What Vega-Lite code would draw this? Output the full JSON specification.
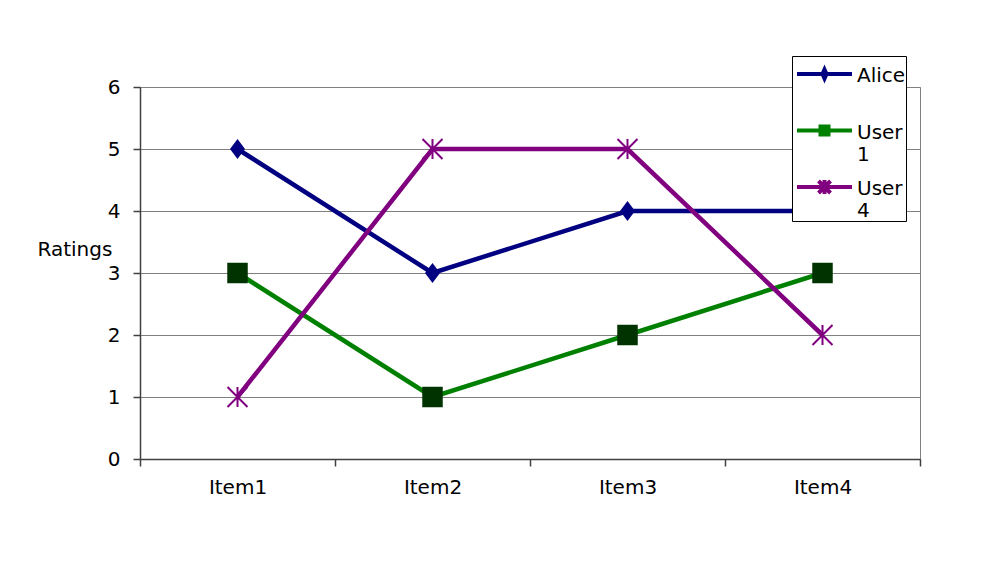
{
  "$schema": "https://vega.github.io/schema/vega-lite/v6.json",
  "autosize": {"type": "none"},
  "padding": {"left": 140, "top": 87, "right": 87, "bottom": 102},
  "width": 780,
  "height": 372,
  "background": "white",
  "config": {
    "font": "DejaVu Sans",
    "view": {"stroke": "#808080", "strokeWidth": 1},
    "axis": {"labelFontSize": 20, "labelColor": "black", "titleFontSize": 20, "titleFontWeight": "normal", "titleColor": "black", "domainColor": "#404040", "tickColor": "#404040", "domainWidth": 1.5, "tickWidth": 1.5},
    "legend": {"orient": "none", "legendX": 652, "legendY": -31, "title": null, "strokeColor": "black", "fillColor": "white", "padding": 0, "symbolSize": 4, "symbolStrokeWidth": 4, "symbolOpacity": 1, "labelFontSize": 20, "labelColor": "black", "labelOffset": 45, "labelBaseline": "top", "rowPadding": 4.5}
  },
  "data": {
    "values": [
      {"item": "Item1", "series": "Alice", "rating": 5},
      {"item": "Item2", "series": "Alice", "rating": 3},
      {"item": "Item3", "series": "Alice", "rating": 4},
      {"item": "Item4", "series": "Alice", "rating": 4},
      {"item": "Item1", "series": "User 1", "rating": 3},
      {"item": "Item2", "series": "User 1", "rating": 1},
      {"item": "Item3", "series": "User 1", "rating": 2},
      {"item": "Item4", "series": "User 1", "rating": 3},
      {"item": "Item1", "series": "User 4", "rating": 1},
      {"item": "Item2", "series": "User 4", "rating": 5},
      {"item": "Item3", "series": "User 4", "rating": 5},
      {"item": "Item4", "series": "User 4", "rating": 2}
    ]
  },
  "encoding": {
    "x": {
      "field": "item", "type": "nominal",
      "scale": {"type": "band", "paddingInner": 0, "paddingOuter": 0},
      "axis": {"title": null, "labelAngle": 0, "tickBand": "extent", "tickSize": 7, "labelPadding": 11, "grid": false}
    },
    "y": {
      "field": "rating", "type": "quantitative",
      "scale": {"domain": [0, 6], "nice": false},
      "axis": {"title": "Ratings", "values": [0, 1, 2, 3, 4, 5, 6], "grid": true, "gridColor": "#808080", "gridWidth": 1, "tickSize": 7, "labelPadding": 13, "titleAngle": 0, "titleAlign": "left", "titleBaseline": "middle", "titleX": -103, "titleY": 162}
    }
  },
  "layer": [
    {
      "mark": {"type": "line", "strokeWidth": 4.5},
      "encoding": {
        "stroke": {"field": "series", "type": "nominal", "scale": {"domain": ["Alice", "User 1", "User 4"], "range": ["#000080", "#008000", "#800080"]}, "legend": {"labelExpr": "datum.label == 'Alice' ? ['Alice\u00a0', ''] : split(datum.label, ' ')"}}
      }
    },
    {
      "transform": [{"filter": "datum.series == 'Alice'"}],
      "mark": {"type": "point", "shape": "M0,-1L0.75,0L0,1L-0.75,0Z", "filled": true, "color": "#000080", "size": 400, "opacity": 1}
    },
    {
      "transform": [{"filter": "datum.series == 'User 1'"}],
      "mark": {"type": "point", "shape": "square", "filled": true, "color": "#003300", "size": 420, "opacity": 1}
    },
    {
      "transform": [{"filter": "datum.series == 'User 4'"}],
      "mark": {"type": "point", "shape": "M-1,-1L1,1M-1,1L1,-1M0,-1L0,1", "filled": false, "color": "#800080", "strokeWidth": 2, "size": 400, "opacity": 1}
    },
    {
      "mark": {"type": "point", "filled": true, "opacity": 0, "strokeWidth": 4},
      "encoding": {
        "fill": {"field": "series", "type": "nominal", "scale": {"domain": ["Alice", "User 1", "User 4"], "range": ["#000080", "#003300", "#800080"]}, "legend": {"labelExpr": "datum.label == 'Alice' ? ['Alice\u00a0', ''] : split(datum.label, ' ')"}},
        "stroke": {"field": "series", "type": "nominal", "scale": {"domain": ["Alice", "User 1", "User 4"], "range": ["#000080", "#008000", "#800080"]}, "legend": {"labelExpr": "datum.label == 'Alice' ? ['Alice\u00a0', ''] : split(datum.label, ' ')"}},
        "shape": {"field": "series", "type": "nominal", "scale": {"domain": ["Alice", "User 1", "User 4"], "range": [
          "M-5,8L50,8M22.5,3.5L24.5,8L22.5,12.5L20.5,8Z",
          "M-5,8L50,8M18.5,4L26.5,4L26.5,12L18.5,12Z",
          "M-5,8L50,8M16.5,2L28.5,14M16.5,14L28.5,2M22.5,1L22.5,15"]}, "legend": {"labelExpr": "datum.label == 'Alice' ? ['Alice\u00a0', ''] : split(datum.label, ' ')"}}
      }
    }
  ]
}
